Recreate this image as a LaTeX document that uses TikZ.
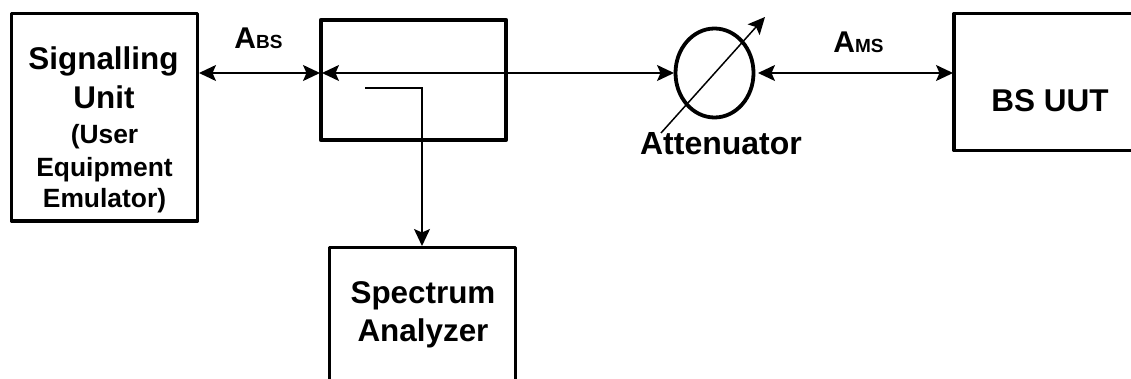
\documentclass[tikz,border=0pt]{standalone}
\usepackage{fontspec}
\setmainfont{Liberation Sans}
\usetikzlibrary{arrows.meta}
\newcommand{\fsz}[1]{\fontsize{#1}{#1}\selectfont}
\tikzset{
  x=1pt,y=-1pt,
  boxline/.style={draw=black,line width=3.7pt,line join=round},
  wire/.style={draw=black,line width=1.5pt},
  tipped/.style={wire,{Stealth[length=17pt,width=16pt,inset=3.5pt]}-{Stealth[length=17pt,width=16pt,inset=3.5pt]}},
  tippedend/.style={wire,-{Stealth[length=17pt,width=16pt,inset=3.5pt]}},
  lbl/.style={font=\bfseries,inner sep=0pt,anchor=base,align=center},
}
\begin{document}
\begin{tikzpicture}
\useasboundingbox (0,0) rectangle (1131,379);
\clip (0,0) rectangle (1131,379);
\fill[white] (0,0) rectangle (1131,379);
\draw[boxline] (11.5,13.5) rectangle (197.5,221);
\coordinate (suL) at (199,73);
\draw[boxline,line width=4.2pt] (321,20) rectangle (506,140);
\coordinate (cpL) at (320,73);
\coordinate (cpT) at (365,88);
\coordinate (cpB) at (422,88);
\draw[boxline] (329.5,247.5) rectangle (515.5,400);
\coordinate (saT) at (422,246);
\draw[boxline] (954,13.5) rectangle (1160,150.5);
\coordinate (uutL) at (953,73);
\draw[line width=3.8pt] (714.5,73) ellipse [x radius=39,y radius=44.5];
\coordinate (attL) at (674,73);
\coordinate (attR) at (758,73);
\coordinate (knobA) at (661,133);
\coordinate (knobB) at (765,17);
\draw[tipped] (suL) -- (cpL);
\draw[tipped] (322,73) -- (attL);
\draw[tipped] (attR) -- (uutL);
\draw[tippedend] (cpT) -- (cpB) -- (saT);
\draw[tippedend] (knobA) -- (knobB);
\node[lbl] (t1) at (103.5,70) {\fsz{31.4}Signalling};
\node[lbl] (t2) at (104,109) {\fsz{31.4}Unit};
\node[lbl] (t3) at (104.5,144) {\fsz{26.4}(User};
\node[lbl] (t4) at (104.5,176.5) {\fsz{26.4}Equipment};
\node[lbl] (t5) at (104.5,208) {\fsz{26.4}Emulator)};
\node[lbl] (t6) at (423,303) {\fsz{31.4}Spectrum};
\node[lbl] (t7) at (423,341) {\fsz{31.4}Analyzer};
\node[lbl] (t8) at (1050,112) {\fsz{31.5}BS UUT};
\node[lbl] (t9) at (721,155) {\fsz{32}Attenuator};
\node[lbl] (t10) at (258.5,48.5) {\fsz{30}A\fsz{19}BS};
\node[lbl] (t11) at (858.5,52.5) {\fsz{30}A\fsz{19}MS};
\end{tikzpicture}
\end{document}
